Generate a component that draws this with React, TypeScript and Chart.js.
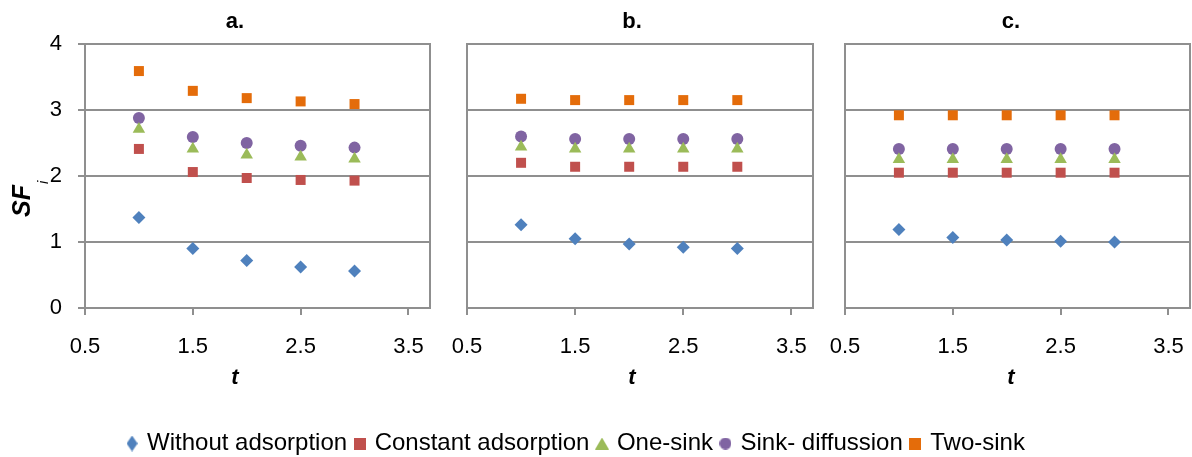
import React, { useEffect, useRef } from 'react';
import { Chart, registerables } from 'chart.js';

Chart.register(...registerables);

// ---------- data ----------
const T_VALUES = [1, 1.5, 2, 2.5, 3];
const X_TICKS = [0.5, 1.5, 2.5, 3.5];
const X_TICK_LABELS = ['0.5', '1.5', '2.5', '3.5'];
const Y_TICKS = [0, 1, 2, 3, 4];
const Y_TICK_LABELS = ['0', '1', '2', '3', '4'];
const PANEL_TITLES = ['a.', 'b.', 'c.'];
const X_TITLE = 't';
const Y_TITLE_MAIN = 'SF';
const Y_TITLE_SUB = 'i';
const SERIES_NAMES = ['Without adsorption', 'Constant adsorption', 'One-sink', 'Sink- diffussion', 'Two-sink'];

const A_WITHOUT = [1.37, 0.90, 0.72, 0.62, 0.56];
const A_CONSTANT = [2.41, 2.06, 1.97, 1.94, 1.93];
const A_ONESINK = [2.71, 2.41, 2.32, 2.29, 2.26];
const A_SINKDIFF = [2.88, 2.59, 2.50, 2.46, 2.43];
const A_TWOSINK = [3.59, 3.29, 3.18, 3.13, 3.09];

const B_WITHOUT = [1.26, 1.05, 0.97, 0.92, 0.90];
const B_CONSTANT = [2.20, 2.14, 2.14, 2.14, 2.14];
const B_ONESINK = [2.44, 2.41, 2.41, 2.41, 2.41];
const B_SINKDIFF = [2.60, 2.56, 2.56, 2.56, 2.56];
const B_TWOSINK = [3.17, 3.15, 3.15, 3.15, 3.15];

const C_WITHOUT = [1.19, 1.07, 1.03, 1.01, 1.00];
const C_CONSTANT = [2.05, 2.05, 2.05, 2.05, 2.05];
const C_ONESINK = [2.25, 2.25, 2.25, 2.25, 2.25];
const C_SINKDIFF = [2.41, 2.41, 2.41, 2.41, 2.41];
const C_TWOSINK = [2.92, 2.92, 2.92, 2.92, 2.92];

const PANEL_DATA = [
  [A_WITHOUT, A_CONSTANT, A_ONESINK, A_SINKDIFF, A_TWOSINK],
  [B_WITHOUT, B_CONSTANT, B_ONESINK, B_SINKDIFF, B_TWOSINK],
  [C_WITHOUT, C_CONSTANT, C_ONESINK, C_SINKDIFF, C_TWOSINK],
];

// ---------- styles ----------
const FONT = "'Liberation Sans', Arial, sans-serif";
const COLORS = ['#4F81BD', '#C0504D', '#9BBB59', '#8064A2', '#E46C0A'];
const POINT_STYLES = ['rectRot', 'rect', 'triangle', 'circle', 'rect'];
const POINT_RADII = [6.5, 7.07, 7.2, 6, 7.07];
const GRID = '#8F8F8F';

// layout of each panel canvas: left, width, y-axis width, right spacer width
const PANEL_LAYOUT = [
  { left: 0, width: 470, yWidth: 85, padRight: 40 },
  { left: 430, width: 404, yWidth: 37, padRight: 21 },
  { left: 830, width: 362, yWidth: 15, padRight: 2 },
];
const PANEL_HEIGHT = 400;

const framePlugin = {
  id: 'frame',
  beforeDatasetsDraw(chart: any) {
    const { ctx, chartArea } = chart;
    ctx.save();
    ctx.strokeStyle = GRID;
    ctx.lineWidth = 2;
    const l = Math.round(chartArea.left), t = Math.round(chartArea.top);
    const r = Math.round(chartArea.right), b = Math.round(chartArea.bottom);
    ctx.strokeRect(l, t, r - l, b - t);
    ctx.restore();
  },
};

const yTitlePlugin = {
  id: 'yTitle',
  afterDraw(chart: any, _args: any, opts: any) {
    if (!opts || !opts.display) return;
    const { ctx } = chart;
    ctx.save();
    ctx.translate(opts.x, opts.y);
    ctx.rotate(-Math.PI / 2);
    ctx.fillStyle = '#000';
    ctx.textBaseline = 'alphabetic';
    ctx.textAlign = 'left';
    const mainFont = `italic bold 25px ${FONT}`;
    const subFont = `italic 15px ${FONT}`;
    ctx.font = mainFont;
    const w1 = ctx.measureText(Y_TITLE_MAIN).width;
    ctx.fillText(Y_TITLE_MAIN, 0, 0);
    ctx.font = subFont;
    ctx.fillText(Y_TITLE_SUB, w1 + 1, 18);
    ctx.restore();
  },
};

function panelConfig(p: number): any {
  const series = PANEL_DATA[p];
  const showY = p === 0;
  const lay = PANEL_LAYOUT[p];
  return {
    type: 'scatter',
    data: {
      datasets: SERIES_NAMES.map((name, i) => ({
        label: name,
        data: T_VALUES.map((t, j) => ({ x: t, y: series[i][j] })),
        pointStyle: POINT_STYLES[i],
        pointRadius: POINT_RADII[i],
        pointHoverRadius: POINT_RADII[i],
        backgroundColor: COLORS[i],
        borderColor: COLORS[i],
        borderWidth: 0,
        showLine: false,
      })),
    },
    options: {
      animation: false,
      responsive: false,
      events: [],
      layout: { padding: 0, autoPadding: false },
      plugins: {
        legend: { display: false },
        tooltip: { enabled: false },
        title: {
          display: true,
          text: PANEL_TITLES[p],
          color: '#000',
          font: { family: FONT, size: 22, weight: 'bold', lineHeight: 1.2 },
          padding: { top: 8.3, bottom: 9.3 },
        },
        subtitle: {
          display: true,
          position: 'bottom',
          text: X_TITLE,
          color: '#000',
          font: { family: FONT, size: 22, weight: 'bold', style: 'italic', lineHeight: 1.2 },
          padding: { top: 0, bottom: 8.8 },
        },
        yTitle: { display: showY, x: 29.5, y: 217 },
      },
      scales: {
        x: {
          type: 'linear',
          min: 0.5,
          max: 3.7,
          afterBuildTicks: (s: any) => {
            s.ticks = X_TICKS.map((v) => ({ value: v }));
          },
          afterFit: (s: any) => {
            s.height = PANEL_HEIGHT - 35.2 - 308;
            s.paddingLeft = 0;
            s.paddingRight = 0;
          },
          ticks: {
            color: '#000',
            font: { family: FONT, size: 22, lineHeight: 2.91 },
            padding: 0,
            maxRotation: 0,
            autoSkip: false,
            callback: (_v: any, i: number) => X_TICK_LABELS[i],
          },
          grid: { display: true, drawOnChartArea: false, drawTicks: true, tickLength: 7, color: GRID, lineWidth: 2 },
          border: { display: true, color: GRID, width: 2 },
        },
        y: {
          type: 'linear',
          position: 'left',
          min: 0,
          max: 4,
          afterBuildTicks: (s: any) => {
            s.ticks = Y_TICKS.map((v) => ({ value: v }));
          },
          afterFit: (s: any) => {
            s.width = lay.yWidth;
            s.paddingTop = 0;
            s.paddingBottom = 0;
          },
          ticks: {
            display: showY,
            color: '#000',
            font: { family: FONT, size: 22 },
            padding: 16,
            autoSkip: false,
            callback: (_v: any, i: number) => Y_TICK_LABELS[i],
          },
          grid: { display: true, drawTicks: showY, tickLength: 7, color: GRID, lineWidth: 2 },
          border: { display: true, color: GRID, width: 2 },
        },
        spacer: {
          type: 'linear',
          position: 'right',
          display: true,
          min: 0,
          max: 4,
          afterFit: (s: any) => {
            s.width = lay.padRight;
            s.paddingTop = 0;
            s.paddingBottom = 0;
          },
          ticks: { display: false },
          grid: { display: false, drawTicks: false },
          border: { display: false },
        },
      },
    },
    plugins: [framePlugin, yTitlePlugin],
  };
}

function makeMarker(kind: string, color: string): HTMLCanvasElement {
  const c = document.createElement('canvas');
  let w = 12, h = 12;
  if (kind === 'diamond') { w = 11; h = 16; }
  if (kind === 'triangle') { w = 14; h = 12; }
  c.width = w; c.height = h;
  const g = c.getContext('2d')!;
  g.fillStyle = color;
  g.beginPath();
  if (kind === 'diamond') {
    g.moveTo(w / 2, 0); g.lineTo(w, h / 2); g.lineTo(w / 2, h); g.lineTo(0, h / 2); g.closePath();
  } else if (kind === 'triangle') {
    g.moveTo(w / 2, 0); g.lineTo(w, h); g.lineTo(0, h); g.closePath();
  } else if (kind === 'circle') {
    g.arc(w / 2, h / 2, w / 2, 0, Math.PI * 2);
  } else {
    g.rect(0, 0, w, h);
  }
  g.fill();
  return c;
}

const LEGEND_MARKERS = ['diamond', 'square', 'triangle', 'circle', 'square'];

function legendConfig(): any {
  const imgs = LEGEND_MARKERS.map((k, i) => makeMarker(k, COLORS[i]));
  return {
    type: 'scatter',
    data: {
      datasets: SERIES_NAMES.map((name, i) => ({ label: name, data: [], backgroundColor: COLORS[i] })),
    },
    options: {
      animation: false,
      responsive: false,
      events: [],
      layout: { padding: 0, autoPadding: false },
      scales: { x: { display: false }, y: { display: false } },
      plugins: {
        tooltip: { enabled: false },
        legend: {
          display: true,
          position: 'top',
          maxHeight: 80,
          labels: {
            usePointStyle: true,
            boxWidth: 6,
            boxHeight: 6,
            padding: 9.5,
            color: '#000',
            font: { family: FONT, size: 24 },
            generateLabels: () =>
              SERIES_NAMES.map((n, i) => ({
                text: n,
                pointStyle: imgs[i],
                fillStyle: COLORS[i],
                strokeStyle: COLORS[i],
                lineWidth: 0,
                hidden: false,
                datasetIndex: i,
                fontColor: '#000',
              })),
          },
        },
      },
    },
  };
}

function ChartCanvas({ make, style, w, h }: { make: () => any; style: React.CSSProperties; w: number; h: number }) {
  const ref = useRef<HTMLCanvasElement | null>(null);
  useEffect(() => {
    if (!ref.current) return;
    const chart = new Chart(ref.current, make());
    return () => chart.destroy();
  }, []);
  return <canvas ref={ref} width={w} height={h} style={{ position: 'absolute', width: w, height: h, ...style }} />;
}

export default function App() {
  return (
    <div style={{ position: 'fixed', left: 0, top: 0, width: 1192, height: 457, background: '#fff', overflow: 'hidden' }}>
      {PANEL_LAYOUT.map((lay, p) => (
        <ChartCanvas key={p} make={() => panelConfig(p)} w={lay.width} h={PANEL_HEIGHT} style={{ left: lay.left, top: 0 }} />
      ))}
      <ChartCanvas make={legendConfig} w={1154} h={35} style={{ left: 0, top: 422 }} />
    </div>
  );
}
